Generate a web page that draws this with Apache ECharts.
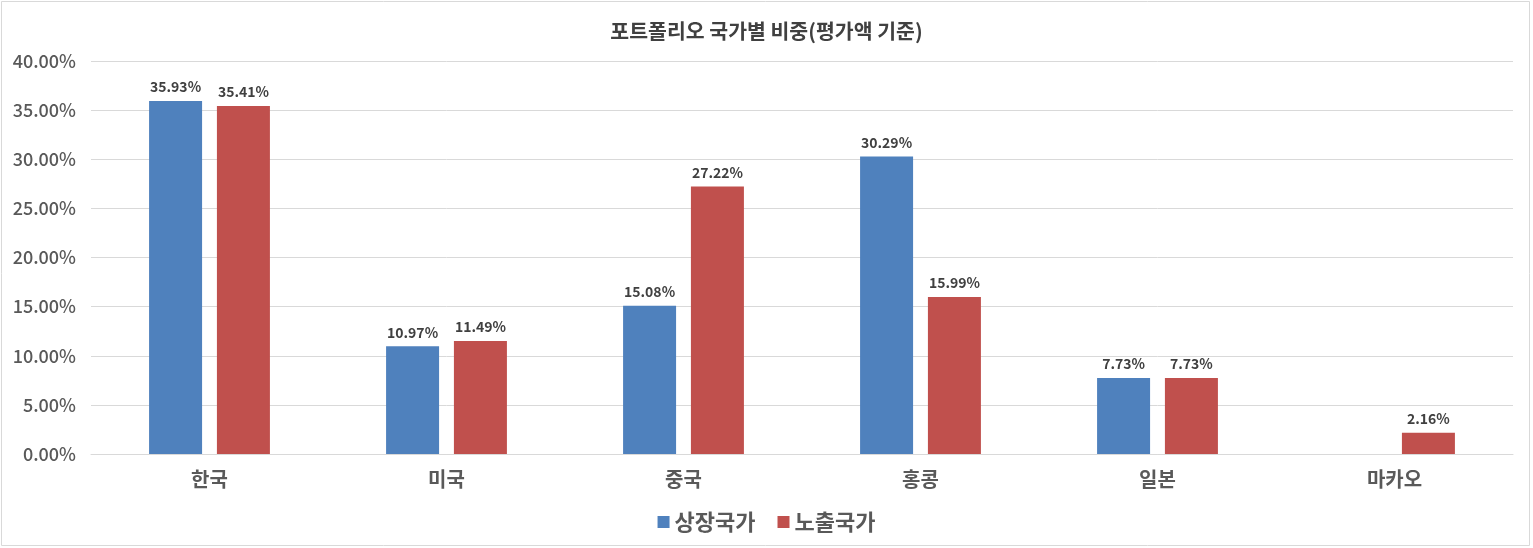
<!DOCTYPE html>
<html>
<head>
<meta charset="utf-8">
<script src="https://cdn.jsdelivr.net/npm/echarts@6/dist/echarts.min.js"></script>
<style>
    html, body { margin: 0; padding: 0; background: #fff; }
    #chart { width: 1533px; height: 548px; }
</style>
</head>
<body>
<div id="chart"></div>
<script>
// 차트 데이터
const categories = ['한국', '미국', '중국', '홍콩', '일본', '마카오'];
const listedValues = [35.93, 10.97, 15.08, 30.29, 7.73, null];   // 상장국가
const exposedValues = [35.41, 11.49, 27.22, 15.99, 7.73, 2.16];  // 노출국가
const seriesNames = ['상장국가', '노출국가'];
const yMin = 0, yMax = 40, yStep = 5;

const FONT = '"Noto Sans CJK KR", "Noto Sans", sans-serif';

let chartDom = document.getElementById('chart');
let myChart = echarts.init(chartDom);

function barLabel(){
    return {
        show: true,
        position: 'top',
        distance: 7,
        fontFamily: FONT,
        fontSize: 14,
        fontWeight: 'bold',
        color: '#404040',
        formatter: (p) => p.value == null ? '' : p.value.toFixed(2) + '%'
    };
}

let option = {
    animation: false,
    backgroundColor: '#fff',
    graphic: [{
        type: 'rect',
        shape: { x: 1.5, y: 1.5, width: 1528, height: 544 },
        style: { fill: 'none', stroke: '#d9d9d9', lineWidth: 1 },
        silent: true
    }],
    title: {
        text: '포트폴리오 국가별 비중(평가액 기준)',
        left: 'center',
        top: 16,
        textStyle: { fontFamily: FONT, fontSize: 20.5, fontWeight: 'bold', color: '#404040' }
    },
    grid: { left: 91, right: 20, top: 61, bottom: 94, containLabel: false },
    legend: {
        data: seriesNames,
        bottom: 10,
        left: 'center',
        icon: 'rect',
        itemWidth: 12,
        itemHeight: 12,
        itemGap: 22,
        textStyle: { fontFamily: FONT, fontSize: 22, fontWeight: 'bold', color: '#595959' }
    },
    xAxis: {
        type: 'category',
        data: categories,
        axisLine: { show: true, lineStyle: { color: '#d9d9d9' } },
        axisTick: { show: false },
        axisLabel: {
            fontFamily: FONT, fontSize: 20, fontWeight: 'bold', color: '#595959', margin: 15
        }
    },
    yAxis: {
        type: 'value',
        min: yMin,
        max: yMax,
        interval: yStep,
        axisLine: { show: false },
        axisTick: { show: false },
        splitLine: { lineStyle: { color: '#d9d9d9' } },
        axisLabel: {
            fontFamily: FONT, fontSize: 18, fontWeight: 500, color: '#595959', margin: 15,
            formatter: (v) => v.toFixed(2) + '%'
        }
    },
    series: [
        {
            name: seriesNames[0],
            type: 'bar',
            data: listedValues,
            barWidth: 53,
            barGap: '28%',
            itemStyle: { color: '#4f81bd' },
            label: barLabel()
        },
        {
            name: seriesNames[1],
            type: 'bar',
            data: exposedValues,
            barWidth: 53,
            barGap: '28%',
            itemStyle: { color: '#c0504d' },
            label: barLabel()
        }
    ]
};

myChart.setOption(option);
</script>
</body>
</html>
